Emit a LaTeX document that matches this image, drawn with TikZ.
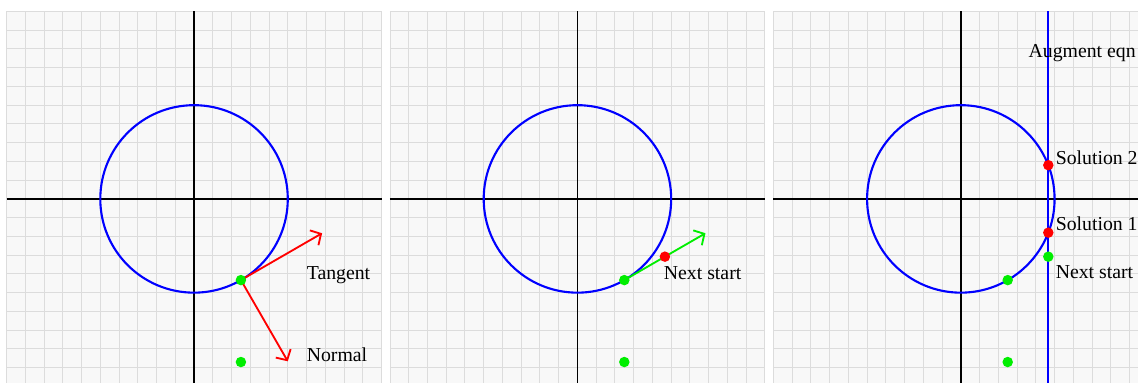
\documentclass[tikz,border=0pt]{standalone}
\usepackage[dvipsnames,svgnames,x11names]{xcolor}
\definecolor{PanelBG}{HTML}{F8F8F8}
\definecolor{GridLine}{HTML}{DCDCDC}
\definecolor{DotGreen}{HTML}{00EE00}
\usepackage{fontspec}
\setmainfont{Liberation Serif}
\usepackage{tikz}
\usetikzlibrary{
  arrows.meta,calc,positioning
}

\begin{document}
\begin{tikzpicture}[
  x=0.5cm,y=0.5cm,
  gridline/.style={draw=GridLine,line width=0.7pt},
  axis/.style={draw=black,line width=1.2pt},
  curve/.style={draw=blue,line width=1.6pt},
  vec/.style={line width=1.4pt,-{Straight Barb[length=6pt,width=13pt]}},
  dot/.style={circle,fill=#1,inner sep=0pt,minimum size=0.28cm},
  lbl/.style={anchor=base west,inner sep=0pt,font=\fontsize{15}{18}\selectfont}
]
  \useasboundingbox (-10.35,-9.81) rectangle (50.35,10.61);
  \fill[white] (-10.35,-9.81) rectangle (50.35,10.61);

  % grid, axes and unit circle of each panel
  \foreach \cx in {0,20.45,40.9}{
    \begin{scope}[shift={(\cx,0)}]
      \fill[PanelBG] (-10,-10) rectangle (10,10);
      \draw[gridline] (-10,-10) grid[step=0.5cm] (10,10);
      \draw[axis] (-10,0) -- (10,0);
      \draw[axis] (0,-10) -- (0,10);
      \draw[curve] (0,0) circle (5);
    \end{scope}
  }

  % panel 1: tangent and normal
  \begin{scope}
    \coordinate (A-tan) at (6.83,-1.83);
    \coordinate (A-nor) at (5,-8.66);
    \draw[vec,red] (2.5,-4.33) coordinate (A-p) -- (A-tan);
    \draw[vec,red] (A-p) -- (A-nor);
    \node[dot=DotGreen] (A-start) at (A-p) {};
    \node[dot=DotGreen] (A-guess) at (2.5,-8.7) {};
    \node[lbl] (A-tlabel) at (6.0,-4.32) {Tangent};
    \node[lbl] (A-nlabel) at (6.0,-8.68) {Normal};
  \end{scope}

  % panel 2: step along the tangent
  \begin{scope}[shift={(20.45,0)}]
    \coordinate (B-p) at (2.5,-4.33);
    \coordinate (B-tan) at (6.83,-1.83);
    \draw[vec,DotGreen] (B-p) -- (B-tan);
    \node[dot=DotGreen] (B-start) at (B-p) {};
    \node[dot=DotGreen] (B-guess) at (2.5,-8.7) {};
    \node[dot=red] (B-next) at (4.665,-3.08) {};
    \node[lbl] (B-label) at (4.6,-4.28) {Next start};
  \end{scope}

  % panel 3: augmented equation and its solutions
  \begin{scope}[shift={(40.9,0)}]
    \coordinate (C-top) at (4.665,10);
    \coordinate (C-bot) at (4.665,-10);
    \draw[curve] (C-bot) -- (C-top);
    \node[dot=DotGreen] (C-start) at (2.5,-4.33) {};
    \node[dot=DotGreen] (C-guess) at (2.5,-8.7) {};
    \node[dot=DotGreen] (C-next) at (4.665,-3.08) {};
    \node[dot=red] (C-sol2) at (4.665,1.8) {};
    \node[dot=red] (C-sol1) at (4.665,-1.8) {};
    \node[lbl] (C-aug) at (3.6,7.56) {Augment eqn};
    \node[lbl] (C-s2label) at (5.05,1.81) {Solution 2};
    \node[lbl] (C-s1label) at (5.05,-1.71) {Solution 1};
    \node[lbl] (C-nlabel) at (5.05,-4.27) {Next start};
  \end{scope}
\end{tikzpicture}
\end{document}
